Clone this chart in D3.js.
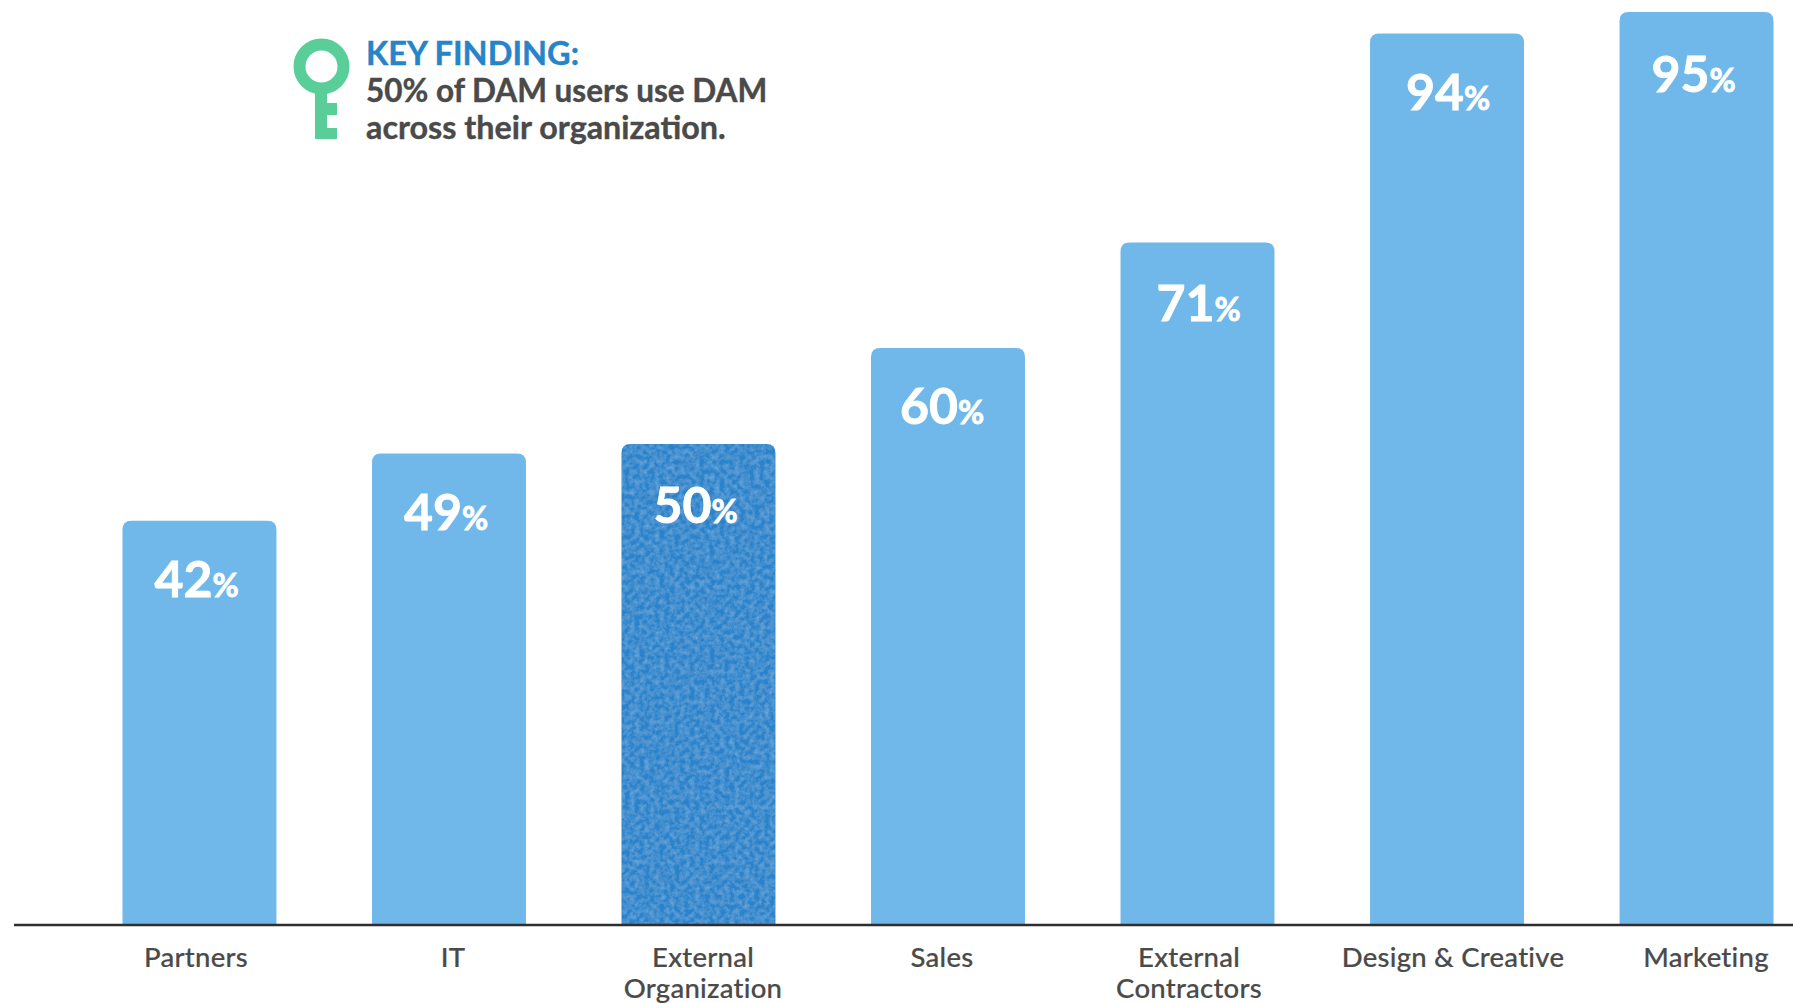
<!DOCTYPE html>
<html>
<head>
<meta charset="utf-8">
<script src="https://cdn.jsdelivr.net/npm/d3@7"></script>
<style>
	html, body { margin: 0; padding: 0; background: #fff; overflow: hidden; }
	text { font-family: Lato, sans-serif; }
</style>
</head>
<body>
<div id="my_dataviz"></div>
<script>
var categories = ["Partners", "IT", "External Organization", "Sales", "External Contractors", "Design & Creative", "Marketing"];
// the printed figures
var percentLabels = [42, 49, 50, 60, 71, 94, 95];
// the bar heights as drawn: the 94% bar is printed a little shorter than its figure
var barValues = [42, 49, 50, 60, 71, 92.75, 95];
var highlighted = "External Organization";

var keyFinding = ["KEY FINDING:", "50% of DAM users use DAM", "across their organization."];

// hand placement, the labels in the picture are not centred exactly
var labelShift = {
	"Partners": [32, 76], "IT": [32, 76], "External Organization": [32, 79], "Sales": [29, 76],
	"External Contractors": [36, 79], "Design & Creative": [36, 76], "Marketing": [32, 80]
};
var tickCentre = {
	"Partners": 196, "IT": 453, "External Organization": 703, "Sales": 942,
	"External Contractors": 1189, "Design & Creative": 1453, "Marketing": 1706
};
var tickLines = {
	"External Organization": ["External", "Organization"],
	"External Contractors": ["External", "Contractors"]
};

var svg_width = 1793, svg_height = 1003, baseline = 924;

var svg = d3.select("#my_dataviz")
	.append("svg")
		.attr("width", svg_width)
		.attr("height", svg_height)
		.style("display", "block");

// mottled paper look of the highlighted bar
var filter = svg.append("defs").append("filter")
	.attr("id", "paper")
	.attr("x", 0).attr("y", 0).attr("width", 1).attr("height", 1);
filter.append("feTurbulence")
	.attr("type", "fractalNoise")
	.attr("baseFrequency", 0.2)
	.attr("numOctaves", 4)
	.attr("seed", 4)
	.attr("result", "noise");
filter.append("feColorMatrix")
	.attr("in", "noise")
	.attr("type", "matrix")
	.attr("values", "0 0 0 0 0.36  0 0 0 0 0.68  0 0 0 0 0.90  0.6 0 0 0 -0.2")
	.attr("result", "speck");
filter.append("feComposite")
	.attr("in", "speck")
	.attr("in2", "SourceAlpha")
	.attr("operator", "in")
	.attr("result", "clipped");
var merge = filter.append("feMerge");
merge.append("feMergeNode").attr("in", "SourceGraphic");
merge.append("feMergeNode").attr("in", "clipped");

var x = d3.scaleBand()
	.domain(categories)
	.range([122.5, 1773.5])
	.paddingInner(0.383)
	.paddingOuter(0);

var y = d3.scaleLinear()
	.domain([0, 95])
	.range([baseline, 12]);

// bars with rounded top corners only
function barPath(d, i) {
	var x0 = x(d), x1 = x0 + x.bandwidth(), top = y(barValues[i]), r = 9;
	return "M" + x0 + "," + baseline + "V" + (top + r) +
		"Q" + x0 + "," + top + " " + (x0 + r) + "," + top +
		"H" + (x1 - r) +
		"Q" + x1 + "," + top + " " + x1 + "," + (top + r) +
		"V" + baseline + "Z";
}

svg.selectAll("path.bar")
	.data(categories)
	.enter()
	.append("path")
	.attr("class", "bar")
	.attr("d", barPath)
	.attr("fill", function(d) { return d === highlighted ? "#2a83ca" : "#71b8ea"; })
	.attr("filter", function(d) { return d === highlighted ? "url(#paper)" : null; });

// value labels
var values = svg.selectAll("text.value")
	.data(categories)
	.enter()
	.append("text")
	.attr("class", "value")
	.attr("x", function(d) { return x(d) + labelShift[d][0]; })
	.attr("y", function(d, i) { return y(barValues[i]) + labelShift[d][1]; })
	.attr("fill", "#fff")
	.attr("stroke", "#fff")
	.attr("stroke-width", 0.8)
	.style("font-weight", 700)
	.style("font-size", "50px");
values.append("tspan")
	.text(function(d, i) { return percentLabels[i]; });
values.append("tspan")
	.style("font-size", "32px")
	.text("%");

// x axis
var axis = svg.append("g")
	.attr("transform", "translate(0," + baseline + ")")
	.call(d3.axisBottom(x).tickSize(0).tickFormat(""));
axis.select(".domain").remove();
axis.append("line")
	.attr("x1", 14).attr("x2", svg_width)
	.attr("y1", 1).attr("y2", 1)
	.attr("stroke", "#2e2e2e")
	.attr("stroke-width", 2.5);

svg.selectAll("text.category")
	.data(categories)
	.enter()
	.append("text")
	.attr("class", "category")
	.attr("text-anchor", "middle")
	.attr("fill", "#4a4a4a")
	.attr("stroke", "#4a4a4a")
	.attr("stroke-width", 0.2)
	.style("font-weight", 500)
	.style("font-size", "27.5px")
	.style("letter-spacing", "0.25px")
	.each(function(d) {
		var lines = tickLines[d] || [d];
		d3.select(this).selectAll("tspan")
			.data(lines)
			.enter()
			.append("tspan")
			.attr("x", tickCentre[d])
			.attr("y", function(l, i) { return 967 + i * 30.5; })
			.text(function(l) { return l; });
	});

// key icon
var key = svg.append("g").attr("fill", "#5ace98");
key.append("circle")
	.attr("cx", 321.5).attr("cy", 66.5).attr("r", 22)
	.attr("fill", "none")
	.attr("stroke", "#5ace98")
	.attr("stroke-width", 12);
key.append("rect").attr("x", 315).attr("y", 90).attr("width", 12).attr("height", 49);
key.append("rect").attr("x", 315).attr("y", 103).attr("width", 22).attr("height", 12);
key.append("rect").attr("x", 315).attr("y", 128).attr("width", 22).attr("height", 11);

// key finding text
svg.selectAll("text.finding")
	.data(keyFinding)
	.enter()
	.append("text")
	.attr("class", "finding")
	.attr("x", 366)
	.attr("y", function(d, i) { return [65, 102, 139][i]; })
	.attr("fill", function(d, i) { return i === 0 ? "#2684c8" : "#4a4a4a"; })
	.attr("stroke", function(d, i) { return i === 0 ? "#2684c8" : "#4a4a4a"; })
	.attr("stroke-width", 0.4)
	.style("font-weight", 700)
	.style("font-size", function(d, i) { return ["32.5px", "31.5px", "32.3px"][i]; })
	.text(function(d) { return d; });
</script>
</body>
</html>
